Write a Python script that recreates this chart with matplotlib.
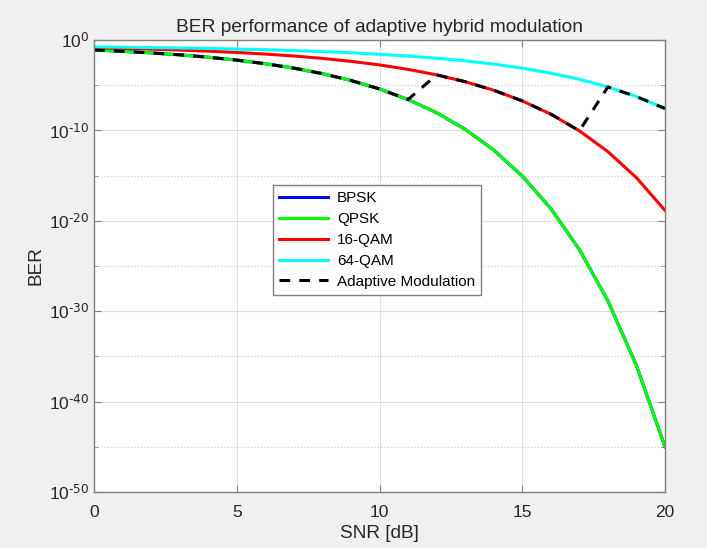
import numpy as np
import matplotlib
matplotlib.use("Agg")
import matplotlib.pyplot as plt

plt.rcParams['font.family'] = ['Liberation Sans', 'DejaVu Sans']
plt.rcParams['mathtext.default'] = 'regular'
plt.rcParams['axes.unicode_minus'] = False

# SNR [dB] and BER values
snr = list(range(0, 21))
ber_bpsk = [0.0786, 0.0563, 0.0375, 0.0229, 0.0125, 0.00595, 0.00239, 7.73e-4, 1.91e-4,
            3.36e-5, 3.87e-6, 2.61e-7, 9.0e-9, 1.33e-10, 6.8e-13, 9.1e-16, 2.27e-19,
            6.75e-24, 1.4e-29, 1.0e-36, 1.04e-45]
ber_qpsk = [0.0786, 0.0563, 0.0375, 0.0229, 0.0125, 0.00595, 0.00239, 7.73e-4, 1.91e-4,
            3.36e-5, 3.87e-6, 2.61e-7, 9.0e-9, 1.33e-10, 6.8e-13, 9.1e-16, 2.27e-19,
            6.75e-24, 1.4e-29, 1.0e-36, 1.04e-45]
ber_16qam = [0.139, 0.118, 0.0976, 0.0774, 0.0586, 0.0419, 0.0279, 0.0170, 0.00925,
             0.00439, 0.00175, 5.64e-4, 1.39e-4, 2.43e-5, 2.76e-6, 1.84e-7, 6.3e-9,
             9.1e-11, 4.5e-13, 5.9e-16, 1.42e-19]
ber_64qam = [0.173, 0.160, 0.146, 0.131, 0.116, 0.0997, 0.0835, 0.0675, 0.0523, 0.0385,
             0.0265, 0.0169, 0.00972, 0.00495, 0.00215, 7.7e-4, 2.17e-4, 4.5e-5, 6.4e-6,
             5.5e-7, 2.65e-8]
# adaptive: QPSK up to 11 dB, 16-QAM 12..17 dB, 64-QAM from 18 dB
ber_adaptive = ber_qpsk[:12] + ber_16qam[12:18] + ber_64qam[18:]

labels = ['BPSK', 'QPSK', '16-QAM', '64-QAM', 'Adaptive Modulation']
ytick_exp = [0, -10, -20, -30, -40, -50]

fig = plt.figure(figsize=(7.07, 5.48), dpi=100, facecolor='#f0f0f0')
ax = fig.add_axes([0.133, 0.102, 0.8076, 0.825])

lw = 2.2
ax.semilogy(snr, ber_bpsk, color='#0000ff', lw=lw, label=labels[0])
ax.semilogy(snr, ber_qpsk, color='#00ff00', lw=lw, label=labels[1])
ax.semilogy(snr, ber_16qam, color='#ff0000', lw=lw, label=labels[2])
ax.semilogy(snr, ber_64qam, color='#00ffff', lw=lw, label=labels[3])
ax.semilogy(snr, ber_adaptive, color='black', lw=lw, ls=(0, (3.5, 3)), label=labels[4])

ax.set_xlim(0, 20)
ax.set_ylim(1e-50, 1e0)
ax.set_xticks([0, 5, 10, 15, 20])
ax.set_yticks([10.0 ** e for e in ytick_exp])
ax.set_yticklabels([r'$10^{\text{%d}}$' % e for e in ytick_exp])
ax.set_yticks([10.0 ** (e - 5) for e in ytick_exp[:-1]], minor=True)
ax.yaxis.set_minor_formatter(plt.NullFormatter())

ax.grid(True, which='major', color='#dedede', lw=0.8, ls='-')
ax.grid(True, which='minor', axis='y', color='#c8c8c8', lw=0.8, ls=(0, (1, 2)))
ax.set_axisbelow(True)

for s in ax.spines.values():
    s.set_color('#808080')
    s.set_linewidth(1.0)
ax.tick_params(which='both', direction='in', top=True, right=True, colors='#808080',
               labelcolor='#262626', labelsize=12.5)
ax.tick_params(which='major', length=5)
ax.tick_params(which='minor', length=3)
ax.tick_params(axis='x', pad=9)

ax.set_xlabel('SNR [dB]', fontsize=13.7, color='#262626', labelpad=4)
ax.set_ylabel('BER', fontsize=13.7, color='#262626', labelpad=3)
ax.set_title('BER performance of adaptive hybrid modulation', fontsize=13.8, color='#262626', pad=6)

leg = ax.legend(loc='upper left', bbox_to_anchor=(0.313, 0.679), borderaxespad=0,
                fontsize=11, fancybox=False, framealpha=1, edgecolor='#808080',
                handlelength=3.2, handletextpad=0.6, labelspacing=0.45, borderpad=0.4)
leg.get_frame().set_linewidth(1.0)

fig.savefig('out.png', dpi=100, facecolor=fig.get_facecolor())
